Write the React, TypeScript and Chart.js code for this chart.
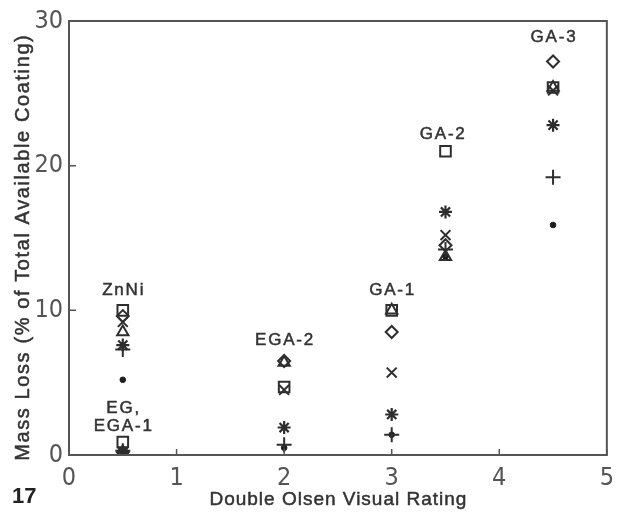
import React, { useEffect, useRef } from 'react';
import { Chart, registerables } from 'chart.js';

Chart.register(...registerables);

// Coatings (x position = Double Olsen visual rating)
const coatings = ['ZnNi', 'EG, EGA-1', 'EGA-2', 'GA-1', 'GA-2', 'GA-3'];
const ratings = [0.5, 0.5, 2, 3, 3.5, 4.5];

// Mass loss (% of total available coating), one array per marker series
const squareLoss = [10.0, 0.9, 4.7, 10.0, 21.0, 25.4];
const diamondLoss = [9.6, 0.2, 6.5, 8.5, 14.5, 27.2];
const triangleLoss = [8.5, 0.2, 6.4, 10.0, 13.7, 25.4];
const crossLoss = [9.2, 0.2, 4.5, 5.7, 15.2, 25.2];
const starLoss = [7.6, 0.2, 1.9, 2.8, 16.8, 22.8];
const plusLoss = [7.3, 0.3, 0.7, 1.4, 14.2, 19.2];
const dotLoss = [5.2, 0.1, 0.5, 1.4, 13.7, 15.9];

// Group labels in data coordinates
const labelTexts = ['ZnNi', 'EG,', 'EGA-1', 'EGA-2', 'GA-1', 'GA-2', 'GA-3'];
const labelX = [0.5, 0.5, 0.5, 2, 3, 3.47, 4.5];
const labelY = [11.4, 3.2, 1.95, 7.9, 11.4, 22.2, 28.9];

const xTicks = [0, 1, 2, 3, 4, 5];
const yTicks = [0, 10, 20, 30];

const xTitle = 'Double Olsen Visual Rating';
const yTitle = 'Mass Loss (% of Total Available Coating)';
const figureNumber = '17';

const INK = '#2e2e2e';
const TICK_FONT = "'Liberation Sans Narrow', 'DejaVu Sans Condensed', 'Liberation Sans', Arial, sans-serif";
const TEXT_FONT = "'Liberation Sans', Arial, sans-serif";

function drawSpaced(ctx: CanvasRenderingContext2D, text: string, cx: number, cy: number, spacing: number) {
  (ctx as any).letterSpacing = spacing + 'px';
  const w = ctx.measureText(text).width;
  ctx.textAlign = 'left';
  const x0 = cx - (w - spacing) / 2;
  ctx.fillText(text, x0, cy);
  ctx.strokeText(text, x0, cy);
  (ctx as any).letterSpacing = '0px';
}

const decorPlugin = {
  id: 'decor',
  afterDraw(chart: any) {
    const { ctx, chartArea, scales } = chart;
    const xs = scales.x;
    const ys = scales.y;
    ctx.save();
    // frame
    ctx.strokeStyle = '#555';
    ctx.lineWidth = 2;
    ctx.strokeRect(chartArea.left, chartArea.top, chartArea.right - chartArea.left, chartArea.bottom - chartArea.top);
    // inward tick marks
    ctx.lineWidth = 1.5;
    ctx.beginPath();
    xTicks.forEach((v) => {
      const px = xs.getPixelForValue(v);
      ctx.moveTo(px, chartArea.bottom);
      ctx.lineTo(px, chartArea.bottom - 6);
    });
    yTicks.forEach((v) => {
      const py = ys.getPixelForValue(v);
      ctx.moveTo(chartArea.left, py);
      ctx.lineTo(chartArea.left + 7, py);
    });
    ctx.stroke();

    ctx.fillStyle = '#333';
    ctx.strokeStyle = '#333';
    ctx.lineWidth = 0.5;
    ctx.textBaseline = 'middle';
    // group labels
    ctx.font = `17px ${TEXT_FONT}`;
    labelTexts.forEach((t, i) => {
      drawSpaced(ctx, t, xs.getPixelForValue(labelX[i]), ys.getPixelForValue(labelY[i]), 1.8);
    });
    // x title
    ctx.font = `19px ${TEXT_FONT}`;
    drawSpaced(ctx, xTitle, (chartArea.left + chartArea.right) / 2, 500, 1);
    // y title
    ctx.save();
    ctx.translate(23, 248);
    ctx.rotate(-Math.PI / 2);
    ctx.font = `20px ${TEXT_FONT}`;
    drawSpaced(ctx, yTitle, 0, 0, 1.6);
    ctx.restore();
    // figure number
    ctx.font = `bold 22px ${TEXT_FONT}`;
    ctx.fillStyle = '#222';
    ctx.textAlign = 'left';
    ctx.fillText(figureNumber, 12, 497);
    ctx.restore();
  },
};

function series(label: string, values: number[], extra: any) {
  return {
    label,
    data: ratings.map((x, i) => ({ x, y: values[i] })),
    borderColor: INK,
    backgroundColor: 'rgba(0,0,0,0)',
    borderWidth: 2,
    ...extra,
  };
}

export default function App() {
  const ref = useRef<HTMLCanvasElement | null>(null);
  useEffect(() => {
    if (!ref.current) return;
    const chart = new Chart(ref.current, {
      type: 'scatter',
      data: {
        datasets: [
          series('Square', squareLoss, { pointStyle: 'rect', pointRadius: 7.5 }),
          series('Diamond', diamondLoss, { pointStyle: 'rectRot', pointRadius: 6 }),
          series('Triangle', triangleLoss, { pointStyle: 'triangle', pointRadius: 6.5 }),
          series('Cross', crossLoss, { pointStyle: 'crossRot', pointRadius: 7 }),
          series('Star', starLoss, { pointStyle: 'star', pointRadius: 6.5, borderWidth: 2.2 }),
          series('Plus', plusLoss, { pointStyle: 'cross', pointRadius: 7.5 }),
          series('Dot', dotLoss, { pointStyle: 'circle', pointRadius: 2.8, backgroundColor: '#1e1e1e', borderColor: '#1e1e1e', borderWidth: 1 }),
        ],
      },
      options: {
        responsive: false,
        animation: false,
        layout: { padding: { top: 20, right: 14, left: 0, bottom: 0 } },
        plugins: {
          legend: { display: false },
          tooltip: { enabled: false },
          title: { display: false },
        },
        scales: {
          x: {
            type: 'linear',
            min: 0,
            max: 5,
            afterFit: (s: any) => { s.height = 57; },
            afterBuildTicks: (s: any) => { s.ticks = xTicks.map((v) => ({ value: v })); },
            grid: { display: false, drawTicks: false },
            border: { display: false },
            ticks: { font: { family: TICK_FONT, size: 25 }, color: '#555', padding: 8, maxRotation: 0 },
          },
          y: {
            type: 'linear',
            min: 0,
            max: 30,
            afterFit: (s: any) => { s.width = 69; },
            afterBuildTicks: (s: any) => { s.ticks = yTicks.map((v) => ({ value: v })); },
            grid: { display: false, drawTicks: false },
            border: { display: false },
            ticks: { font: { family: TICK_FONT, size: 25 }, color: '#555', padding: 6 },
          },
        },
      },
      plugins: [decorPlugin],
    });
    return () => chart.destroy();
  }, []);
  return (
    <div style={{ position: 'absolute', left: 0, top: 0, width: 622, height: 512, background: '#fff' }}>
      <canvas ref={ref} width={622} height={512} />
    </div>
  );
}
